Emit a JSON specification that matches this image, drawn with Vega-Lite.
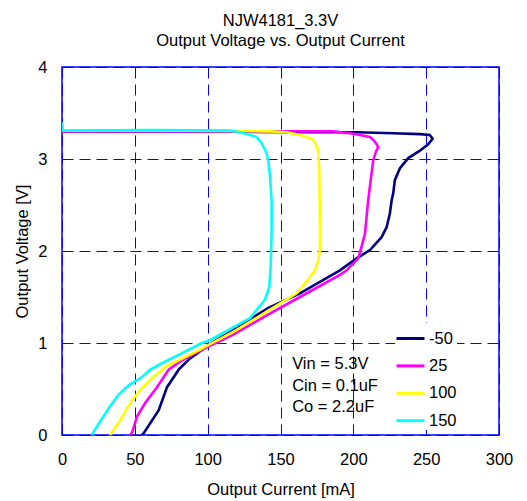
{
  "$schema": "https://vega.github.io/schema/vega-lite/v6.json",
  "width": 437,
  "height": 368,
  "autosize": {"type": "none"},
  "padding": {"left": 62, "top": 67, "right": 28, "bottom": 66},
  "background": "white",
  "title": {
    "text": ["NJW4181_3.3V", "Output Voltage vs. Output Current"],
    "anchor": "middle",
    "font": "Liberation Sans",
    "fontSize": 16.5,
    "fontWeight": "normal",
    "color": "#000000",
    "lineHeight": 20,
    "offset": 10
  },
  "config": {
    "view": {"stroke": "#0000FF", "strokeWidth": 1.5},
    "axis": {
      "domain": false,
      "ticks": false,
      "grid": true,
      "gridColor": "#0000FF",
      "gridDash": [11, 6],
      "gridWidth": 1,
      "gridOpacity": 1,
      "labelFlush": false,
      "labelFont": "Liberation Sans",
      "labelFontSize": 16.5,
      "labelColor": "#000000",
      "titleFont": "Liberation Sans",
      "titleFontSize": 16.5,
      "titleFontWeight": "normal",
      "titleColor": "#000000"
    }
  },
  "layer": [
    {
      "data": {
        "values": [
          {"T": "-50", "I": 54.9, "V": 0}, {"T": "-50", "I": 56.1, "V": 0.02}, {"T": "-50", "I": 66.4, "V": 0.27}, {"T": "-50", "I": 72.1, "V": 0.52}, {"T": "-50", "I": 80.1, "V": 0.71}, {"T": "-50", "I": 87.0, "V": 0.82}, {"T": "-50", "I": 100.7, "V": 0.98}, {"T": "-50", "I": 117.4, "V": 1.14}, {"T": "-50", "I": 141.4, "V": 1.38}, {"T": "-50", "I": 163.3, "V": 1.54}, {"T": "-50", "I": 190.8, "V": 1.79}, {"T": "-50", "I": 202.3, "V": 1.92}, {"T": "-50", "I": 211.4, "V": 2.01}, {"T": "-50", "I": 219.4, "V": 2.15}, {"T": "-50", "I": 222.9, "V": 2.26}, {"T": "-50", "I": 225.1, "V": 2.41}, {"T": "-50", "I": 226.3, "V": 2.55}, {"T": "-50", "I": 227.4, "V": 2.63}, {"T": "-50", "I": 228.5, "V": 2.77}, {"T": "-50", "I": 232, "V": 2.9}, {"T": "-50", "I": 237.7, "V": 3.01}, {"T": "-50", "I": 245.7, "V": 3.09}, {"T": "-50", "I": 251.4, "V": 3.16}, {"T": "-50", "I": 254.4, "V": 3.22}, {"T": "-50", "I": 252.5, "V": 3.26}, {"T": "-50", "I": 245.7, "V": 3.27}, {"T": "-50", "I": 227.2, "V": 3.28}, {"T": "-50", "I": 202.5, "V": 3.29}, {"T": "-50", "I": 163.3, "V": 3.29}, {"T": "-50", "I": 94.7, "V": 3.3}, {"T": "-50", "I": 0, "V": 3.3},
          {"T": "25", "I": 46.7, "V": 0}, {"T": "25", "I": 48, "V": 0.02}, {"T": "25", "I": 51.5, "V": 0.2}, {"T": "25", "I": 57.2, "V": 0.35}, {"T": "25", "I": 65.2, "V": 0.52}, {"T": "25", "I": 73.2, "V": 0.71}, {"T": "25", "I": 81.2, "V": 0.8}, {"T": "25", "I": 91.5, "V": 0.89}, {"T": "25", "I": 100.5, "V": 0.96}, {"T": "25", "I": 117.6, "V": 1.09}, {"T": "25", "I": 140.5, "V": 1.3}, {"T": "25", "I": 163.3, "V": 1.5}, {"T": "25", "I": 190.8, "V": 1.74}, {"T": "25", "I": 195.4, "V": 1.79}, {"T": "25", "I": 203.4, "V": 1.92}, {"T": "25", "I": 205.7, "V": 2.05}, {"T": "25", "I": 208, "V": 2.19}, {"T": "25", "I": 209.1, "V": 2.37}, {"T": "25", "I": 210.2, "V": 2.55}, {"T": "25", "I": 211.9, "V": 2.77}, {"T": "25", "I": 213.7, "V": 2.99}, {"T": "25", "I": 215.5, "V": 3.08}, {"T": "25", "I": 217.1, "V": 3.13}, {"T": "25", "I": 214.8, "V": 3.19}, {"T": "25", "I": 211.4, "V": 3.24}, {"T": "25", "I": 204.5, "V": 3.26}, {"T": "25", "I": 197.7, "V": 3.28}, {"T": "25", "I": 186, "V": 3.3}, {"T": "25", "I": 94.7, "V": 3.3}, {"T": "25", "I": 0, "V": 3.3},
          {"T": "100", "I": 32.9, "V": 0}, {"T": "100", "I": 33.8, "V": 0.02}, {"T": "100", "I": 40, "V": 0.16}, {"T": "100", "I": 44.6, "V": 0.29}, {"T": "100", "I": 49.2, "V": 0.4}, {"T": "100", "I": 54.9, "V": 0.51}, {"T": "100", "I": 62.9, "V": 0.63}, {"T": "100", "I": 70.9, "V": 0.74}, {"T": "100", "I": 82.4, "V": 0.83}, {"T": "100", "I": 93.8, "V": 0.92}, {"T": "100", "I": 100.7, "V": 0.98}, {"T": "100", "I": 117.6, "V": 1.12}, {"T": "100", "I": 140.5, "V": 1.34}, {"T": "100", "I": 161.1, "V": 1.54}, {"T": "100", "I": 168, "V": 1.67}, {"T": "100", "I": 173.6, "V": 1.79}, {"T": "100", "I": 175.9, "V": 1.9}, {"T": "100", "I": 177.1, "V": 2.01}, {"T": "100", "I": 177.1, "V": 2.34}, {"T": "100", "I": 176.6, "V": 2.88}, {"T": "100", "I": 175.9, "V": 3.08}, {"T": "100", "I": 174.8, "V": 3.15}, {"T": "100", "I": 171.4, "V": 3.22}, {"T": "100", "I": 163.3, "V": 3.26}, {"T": "100", "I": 154.2, "V": 3.29}, {"T": "100", "I": 142.8, "V": 3.3}, {"T": "100", "I": 60.4, "V": 3.31}, {"T": "100", "I": 0, "V": 3.31},
          {"T": "150", "I": 20.6, "V": 0}, {"T": "150", "I": 21.1, "V": 0.02}, {"T": "150", "I": 26.3, "V": 0.15}, {"T": "150", "I": 32.1, "V": 0.29}, {"T": "150", "I": 38.9, "V": 0.44}, {"T": "150", "I": 45.8, "V": 0.54}, {"T": "150", "I": 54.9, "V": 0.63}, {"T": "150", "I": 60.6, "V": 0.71}, {"T": "150", "I": 68.6, "V": 0.78}, {"T": "150", "I": 82.4, "V": 0.89}, {"T": "150", "I": 96.1, "V": 1.0}, {"T": "150", "I": 101.6, "V": 1.03}, {"T": "150", "I": 129, "V": 1.27}, {"T": "150", "I": 134.7, "V": 1.38}, {"T": "150", "I": 139.3, "V": 1.47}, {"T": "150", "I": 142.3, "V": 1.61}, {"T": "150", "I": 143.2, "V": 1.83}, {"T": "150", "I": 143.9, "V": 2.19}, {"T": "150", "I": 143.9, "V": 2.55}, {"T": "150", "I": 142.8, "V": 2.81}, {"T": "150", "I": 141.6, "V": 2.99}, {"T": "150", "I": 140, "V": 3.08}, {"T": "150", "I": 137.1, "V": 3.17}, {"T": "150", "I": 133.6, "V": 3.24}, {"T": "150", "I": 129, "V": 3.26}, {"T": "150", "I": 122.2, "V": 3.29}, {"T": "150", "I": 115.3, "V": 3.31}, {"T": "150", "I": 60.4, "V": 3.315}, {"T": "150", "I": 0.7, "V": 3.31}, {"T": "150", "I": 0, "V": 3.4}
        ]
      },
      "mark": {"type": "line", "strokeWidth": 2.6, "clip": true},
      "encoding": {
        "x": {
          "field": "I", "type": "quantitative",
          "scale": {"domain": [0, 300], "nice": false},
          "axis": {"values": [0, 50, 100, 150, 200, 250, 300], "format": "d", "title": "Output Current [mA]", "labelPadding": 16, "titleY": 59, "titleBaseline": "alphabetic"}
        },
        "y": {
          "field": "V", "type": "quantitative",
          "scale": {"domain": [0, 4], "nice": false},
          "axis": {"values": [0, 1, 2, 3, 4], "format": "d", "title": "Output Voltage [V]", "labelPadding": 15, "titleX": -40, "titleY": 184, "titleAngle": -90, "titleAlign": "center", "titleBaseline": "middle"}
        },
        "color": {
          "field": "T", "type": "nominal",
          "scale": {"domain": ["-50", "25", "100", "150"], "range": ["#000080", "#FF00FF", "#FFFF00", "#00FFFF"]},
          "legend": {
            "title": null,
            "orient": "none",
            "legendX": 333,
            "legendY": 256,
            "symbolType": "stroke",
            "symbolSize": 784,
            "symbolStrokeWidth": 3,
            "labelFont": "Liberation Sans",
            "labelFontSize": 16.5,
            "labelColor": "#000000",
            "labelOffset": 3,
            "fillColor": "#FFFFFF",
            "padding": 0,
            "rowPadding": 3.4
          }
        },
        "order": {"value": null}
      }
    },
    {
      "data": {"values": [{}]},
      "mark": {"type": "text", "align": "left", "baseline": "alphabetic", "font": "Liberation Sans", "fontSize": 16.5, "color": "#000000", "lineHeight": 21.5},
      "encoding": {
        "x": {"datum": 158},
        "y": {"datum": 0.717},
        "text": {"value": ["Vin = 5.3V", "Cin = 0.1uF", "Co = 2.2uF"]}
      }
    }
  ]
}
